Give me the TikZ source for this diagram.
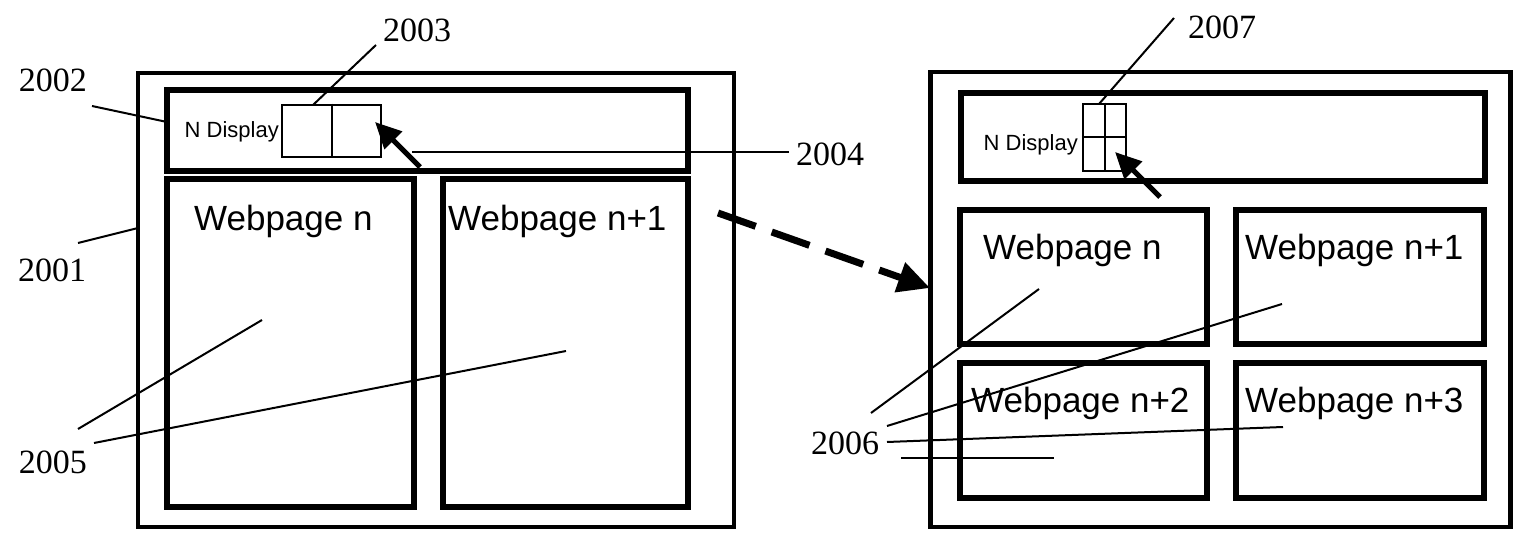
\documentclass[tikz,border=0pt]{standalone}
\usepackage{fontspec}
\setmainfont{Liberation Serif}
\newfontfamily\arialfont{Liberation Sans}
\usetikzlibrary{arrows.meta}
\tikzset{
  outerbox/.style={draw, line width=4.5pt, inner sep=0pt},
  innerbox/.style={draw, line width=6pt, inner sep=0pt},
  smallbox/.style={draw, line width=2.5pt, inner sep=0pt},
  divider/.style={line width=2pt},
  leader/.style={line width=2pt},
  pagetext/.style={font=\fontsize{35}{40}\selectfont\arialfont, inner sep=0pt},
  ndtext/.style={font=\fontsize{22}{24}\selectfont\arialfont, inner sep=0pt},
  reflabel/.style={font=\fontsize{34}{38}\selectfont, inner sep=0pt},
  bigarrow/.style={line width=5pt, -{Triangle[length=26pt,width=24pt]}},
  dasharrow/.style={line width=7pt, dash pattern=on 40pt off 17pt, -{Triangle[length=32pt,width=30pt]}}
}
\begin{document}
\begin{tikzpicture}[x=1pt,y=-1pt]
\useasboundingbox (0,0) rectangle (1521,534);
% ---------- left screen ----------
\node[outerbox, minimum width=596pt, minimum height=454pt] (outerL) at (436,300) {};
\node[innerbox, minimum width=521pt, minimum height=81pt] (barL) at (427.5,130.5) {};
\node[innerbox, minimum width=247pt, minimum height=328pt] (pageLa) at (290.5,343) {};
\node[innerbox, minimum width=245pt, minimum height=328pt] (pageLb) at (565.5,343) {};
\node[smallbox, minimum width=99pt, minimum height=52pt] (ndboxL) at (331.5,131) {};
\draw[divider] (ndboxL.north) -- (ndboxL.south);
\node[ndtext, anchor=east] (ndL) at (279,132) {N Display};
\node[pagetext, anchor=base west] (tLa) at (194,231) {Webpage n};
\node[pagetext, anchor=base west] (tLb) at (448,231) {Webpage n+1};
% ---------- right screen ----------
\node[outerbox, minimum width=580pt, minimum height=455pt] (outerR) at (1220.5,299.5) {};
\node[innerbox, minimum width=524pt, minimum height=88pt] (barR) at (1223,137) {};
\node[innerbox, minimum width=247pt, minimum height=134pt] (pageRa) at (1083.5,277) {};
\node[innerbox, minimum width=248pt, minimum height=134pt] (pageRb) at (1360,277) {};
\node[innerbox, minimum width=247pt, minimum height=135pt] (pageRc) at (1083.5,430.5) {};
\node[innerbox, minimum width=248pt, minimum height=135pt] (pageRd) at (1360,430.5) {};
\node[smallbox, minimum width=43pt, minimum height=67pt] (ndboxR) at (1104.5,137.5) {};
\draw[divider] (ndboxR.north) -- (ndboxR.south);
\draw[divider] (ndboxR.west) -- (ndboxR.east);
\node[ndtext, anchor=east] (ndR) at (1078,145) {N Display};
\node[pagetext, anchor=base west] (tRa) at (983,260) {Webpage n};
\node[pagetext, anchor=base west] (tRb) at (1245,260) {Webpage n+1};
\node[pagetext, anchor=base west] (tRc) at (971,413) {Webpage n+2};
\node[pagetext, anchor=base west] (tRd) at (1245,413) {Webpage n+3};
% ---------- reference labels ----------
\node[reflabel] (l2001) at (52,270) {2001};
\node[reflabel] (l2002) at (53,80) {2002};
\node[reflabel] (l2003) at (417,30) {2003};
\node[reflabel] (l2004) at (830,154) {2004};
\node[reflabel] (l2005) at (53,462) {2005};
\node[reflabel] (l2006) at (845,443) {2006};
\node[reflabel] (l2007) at (1222,27) {2007};
% ---------- leader end points ----------
\coordinate (a2001) at (78,243);   \coordinate (b2001) at (138,228);
\coordinate (a2002) at (92,106);   \coordinate (b2002) at (167,122);
\coordinate (a2003) at (376,45);   \coordinate (b2003) at (313,105);
\coordinate (a2004) at (789,152);  \coordinate (b2004) at (412,152);
\coordinate (a2005) at (78,429);   \coordinate (b2005) at (262,320);
\coordinate (c2005) at (94,443);   \coordinate (d2005) at (566,351);
\coordinate (a2007) at (1174,18);  \coordinate (b2007) at (1099,104);
\coordinate (a2006) at (871,413);  \coordinate (b2006) at (1039,289);
\coordinate (c2006) at (887,426);  \coordinate (d2006) at (1282,304);
\coordinate (e2006) at (887,442);  \coordinate (f2006) at (1283,427);
\coordinate (g2006) at (901,458);  \coordinate (h2006) at (1054,458);
\draw[leader] (a2001) -- (b2001);
\draw[leader] (a2002) -- (b2002);
\draw[leader] (a2003) -- (b2003);
\draw[leader] (a2004) -- (b2004);
\draw[leader] (a2005) -- (b2005);
\draw[leader] (c2005) -- (d2005);
\draw[leader] (a2007) -- (b2007);
\draw[leader] (a2006) -- (b2006);
\draw[leader] (c2006) -- (d2006);
\draw[leader] (e2006) -- (f2006);
\draw[leader] (g2006) -- (h2006);
% ---------- arrows ----------
\coordinate (tailL) at (420,167); \coordinate (tipL) at (375,122);
\coordinate (tailR) at (1160,197); \coordinate (tipR) at (1115,152);
\coordinate (dashS) at (718,213); \coordinate (dashE) at (930,288);
\draw[bigarrow] (tailL) -- (tipL);
\draw[bigarrow] (tailR) -- (tipR);
\draw[dasharrow] (dashS) -- (dashE);
\end{tikzpicture}
\end{document}
